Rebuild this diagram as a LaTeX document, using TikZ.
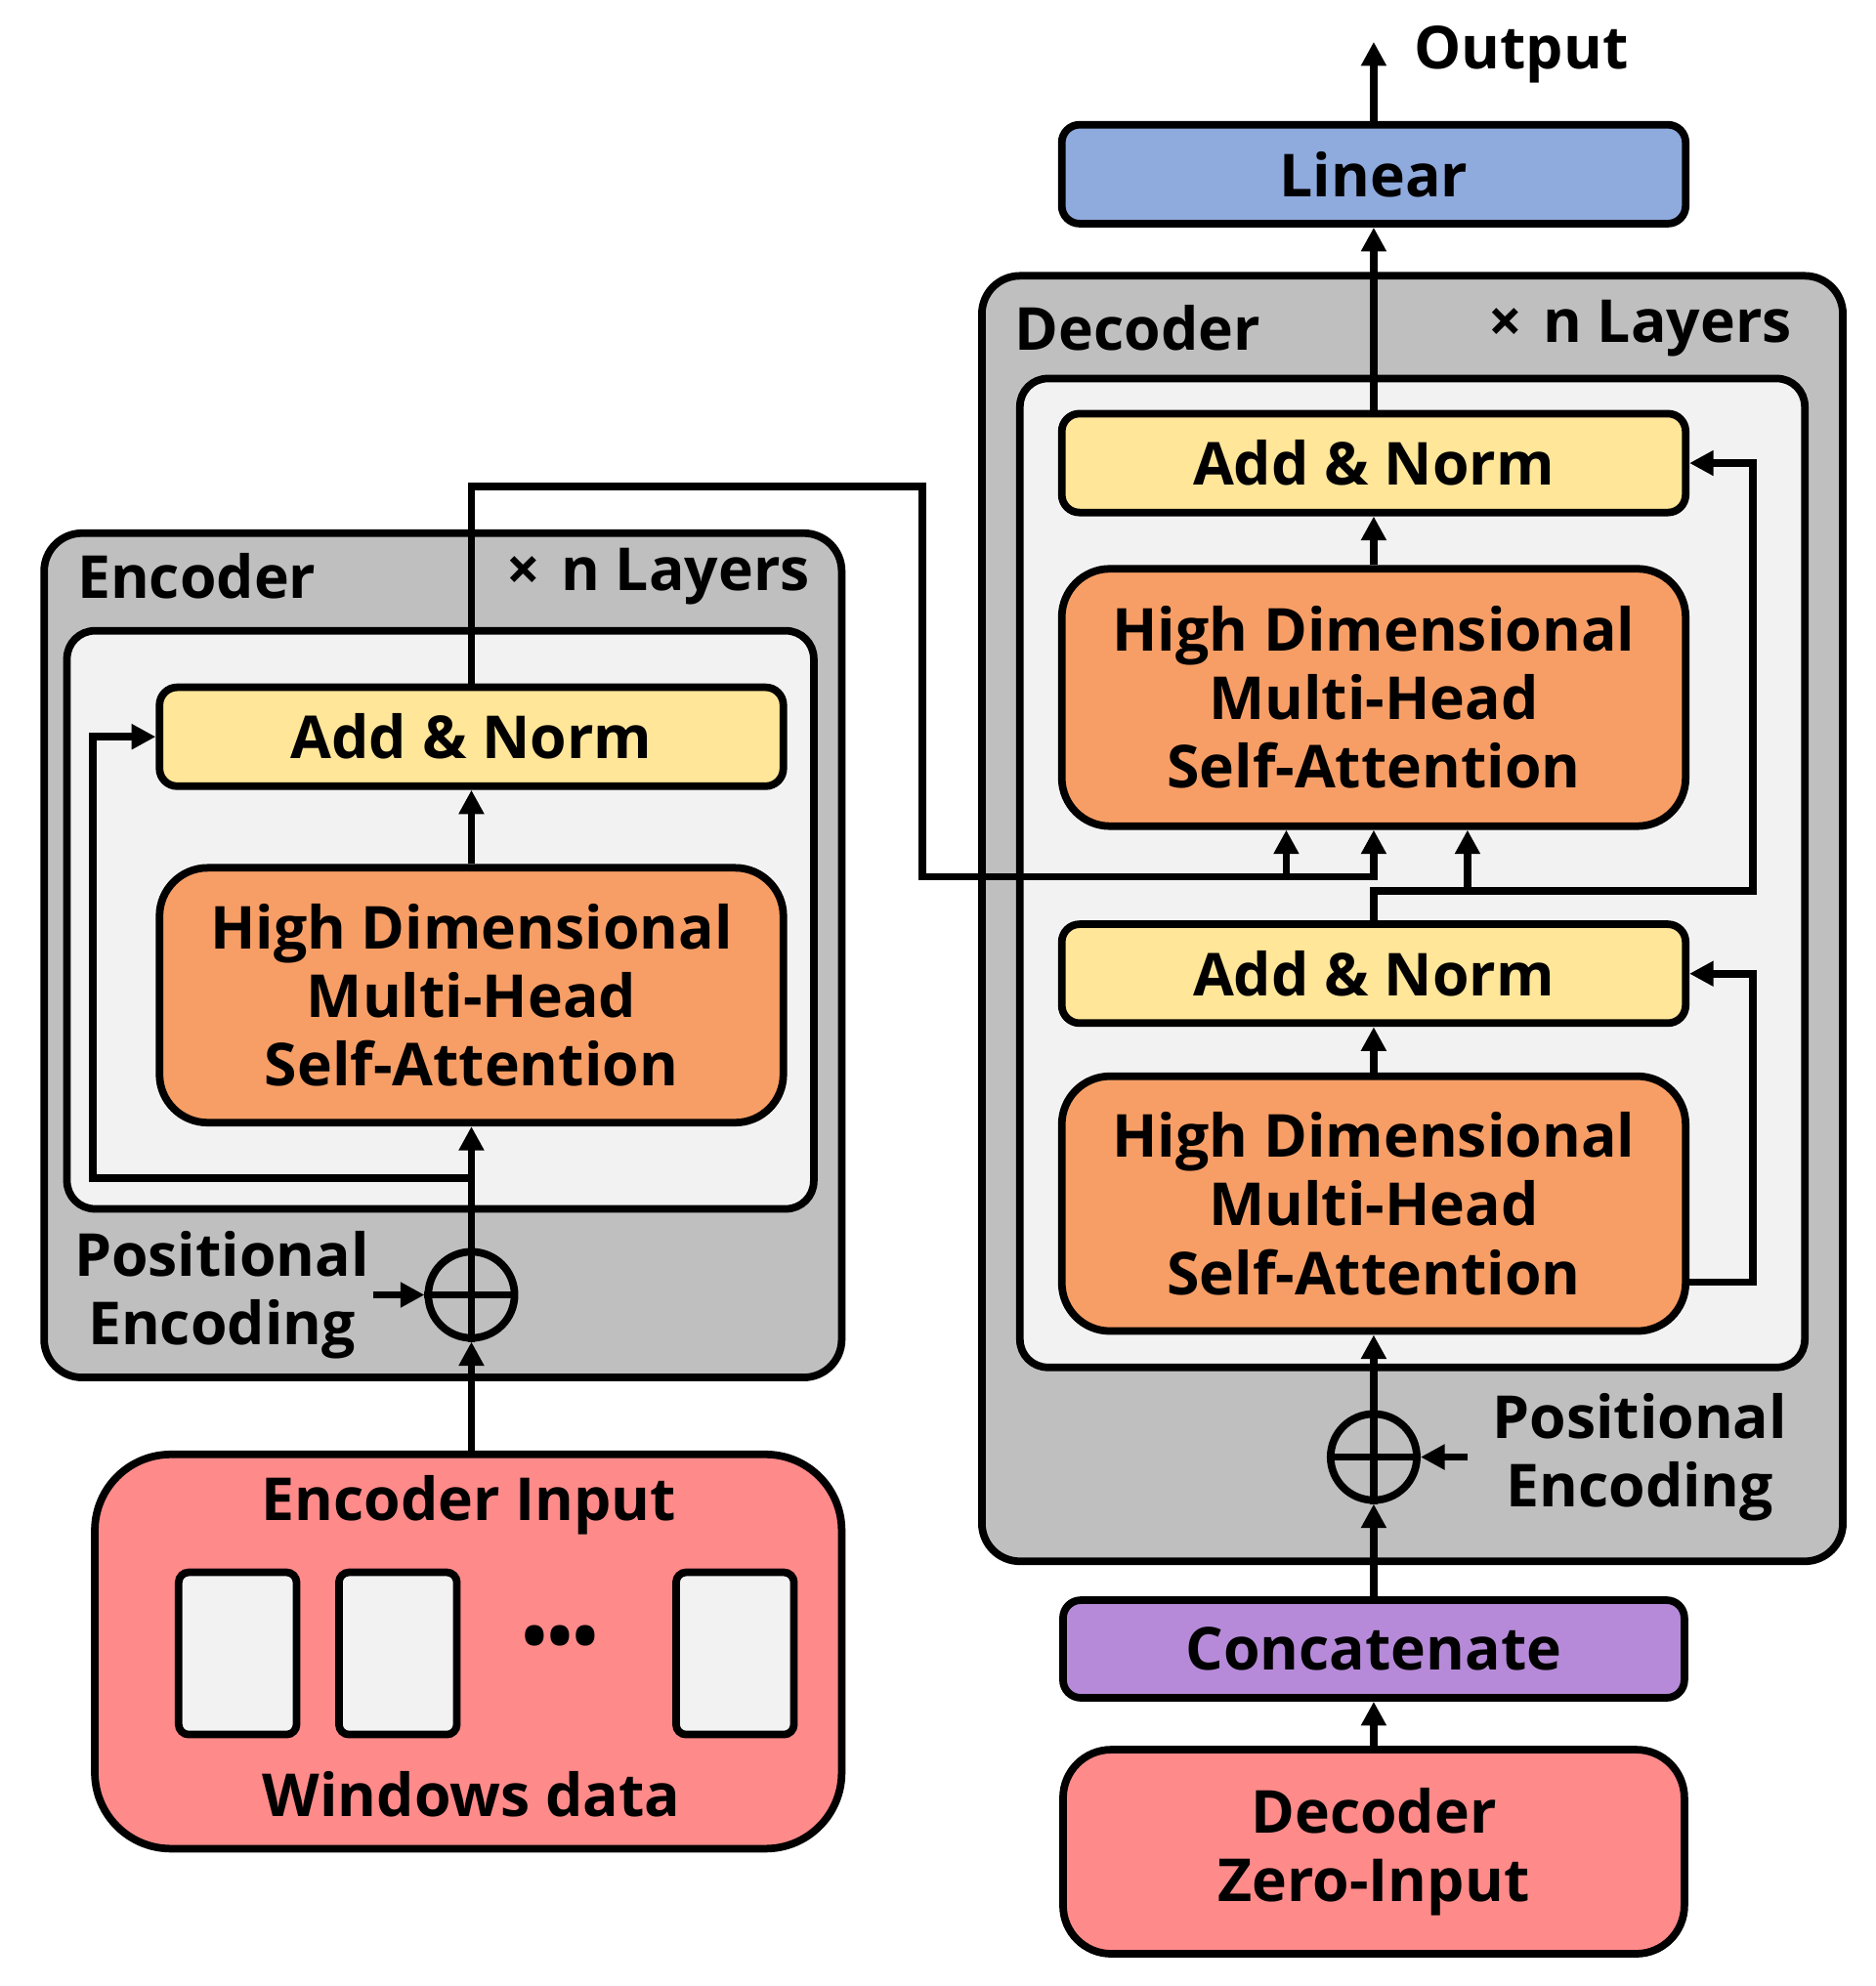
\documentclass[tikz,border=0pt]{standalone}
\usepackage{fontspec}
\setmainfont{Open Sans}
\usetikzlibrary{arrows.meta}
\definecolor{layergray}{HTML}{BFBFBF}
\definecolor{stackgray}{HTML}{F2F2F2}
\definecolor{normyellow}{HTML}{FFE699}
\definecolor{attnorange}{HTML}{F79E66}
\definecolor{inputred}{HTML}{FF8A8A}
\definecolor{linearblue}{HTML}{8FAADC}
\definecolor{concatpurple}{HTML}{B68AD8}
\begin{document}
\begin{tikzpicture}[x=0.01cm,y=-0.01cm,line width=1.7pt,
    font=\bfseries\fontsize{13.3}{15.4}\selectfont,
    layerbox/.style={draw,fill=layergray,rounded corners=0.3cm},
    stackbox/.style={draw,fill=stackgray,rounded corners=0.22cm},
    normbox/.style={draw,fill=normyellow,rounded corners=0.14cm,minimum width=4.92cm,minimum height=0.78cm},
    attnbox/.style={draw,fill=attnorange,rounded corners=0.38cm,minimum width=4.92cm,minimum height=2.01cm,align=center},
    inbox/.style={draw,fill=inputred,minimum width=4.90cm},
    addcircle/.style={draw,circle,minimum size=0.68cm,inner sep=0pt},
    tag/.style={inner sep=0pt,align=center},
    flow/.style={-{Triangle[length=5.4pt,width=5.4pt]}}]
    \useasboundingbox (0,0) rectangle (1480.3,1567.5);

    % encoder
    \node[layerbox,minimum width=6.29cm,minimum height=6.66cm] (encbox) at (349.5,754) {};
    \node[stackbox,minimum width=5.89cm,minimum height=4.56cm] (encstack) at (347.5,726) {};
    \node[tag,anchor=west] (enctitle) at (58,455) {Encoder};
    \node[tag,anchor=east] (enclayers) at (642,455) {×\hspace{0.35em}n Layers};
    \node[normbox] (an1) at (372,581.5) {Add \& Norm};
    \node[attnbox] (mhsa1) at (372,785.5) {High Dimensional\\Multi-Head\\Self-Attention};
    \node[addcircle] (pe1) at (372,1022) {};
    \node[tag] (pe1txt) at (175,1022) {Positional\\Encoding};

    % encoder input
    \node[inbox,rounded corners=0.6cm,minimum width=5.89cm,minimum height=3.11cm] (encin) at (369.5,1303.5) {};
    \node[tag] (encintxt) at (370,1188) {Encoder Input};
    \foreach \x/\name in {187.5/w1, 314/w2, 580/w3}
        \node[draw,fill=stackgray,rounded corners=0.08cm,minimum width=0.93cm,minimum height=1.28cm] (\name) at (\x,1305) {};
    \node[tag,font=\bfseries\fontsize{15}{16}\selectfont] (dots) at (442,1297) {•••};
    \node[tag] (wintxt) at (372,1416) {Windows data};

    % decoder
    \node[layerbox,minimum width=6.79cm,minimum height=10.14cm] (decbox) at (1114.5,725) {};
    \node[stackbox,minimum width=6.19cm,minimum height=7.80cm] (decstack) at (1114.5,689) {};
    \node[tag,anchor=west] (dectitle) at (798,259) {Decoder};
    \node[tag,anchor=east] (declayers) at (1417,259) {×\hspace{0.35em}n Layers};
    \node[normbox] (an3) at (1084,365.5) {Add \& Norm};
    \node[attnbox,minimum height=2.03cm] (mhsa3) at (1084,550.5) {High Dimensional\\Multi-Head\\Self-Attention};
    \node[normbox] (an2) at (1084,768.5) {Add \& Norm};
    \node[attnbox] (mhsa2) at (1084,950) {High Dimensional\\Multi-Head\\Self-Attention};
    \node[addcircle] (pe2) at (1084,1150) {};
    \node[tag] (pe2txt) at (1294,1150) {Positional\\Encoding};
    \coordinate (pe2in) at (1158,1150);

    \node[inbox,fill=concatpurple,rounded corners=0.14cm,minimum height=0.77cm] (concat) at (1084,1301.5) {Concatenate};
    \node[inbox,rounded corners=0.38cm,minimum height=1.61cm,align=center] (zero) at (1084,1461.5) {Decoder\\Zero-Input};
    \node[normbox,fill=linearblue] (linear) at (1084,137.5) {Linear};
    \coordinate (out) at (1084,33);
    \node[tag,anchor=west] (outtxt) at (1113,43) {Output};

    % encoder flow
    \draw[flow] (encin.north -| pe1) -- (pe1.south);
    \draw (pe1.north) -- (pe1.south) (pe1.west) -- (pe1.east);
    \draw[flow] (pe1txt.east) -- (pe1.west);
    \draw[flow] (pe1.north) -- (mhsa1.south);
    \draw[flow] (mhsa1.north) -- (an1.south);
    \draw[flow] (372,930) -- (73,930) |- (an1.west);

    % encoder to decoder
    \draw[flow] (an1.north) |- (728,384) |- (1084,692) -- (mhsa3.south);
    \coordinate (kin) at (1015,692);
    \draw[flow] (kin) -- (kin |- mhsa3.south);

    % decoder flow
    \draw[flow] (zero.north) -- (concat.south);
    \draw[flow] (concat.north) -- (pe2.south);
    \draw (pe2.north) -- (pe2.south) (pe2.west) -- (pe2.east);
    \draw[flow] (pe2in) -- (pe2.east);
    \draw[flow] (pe2.north) -- (mhsa2.south);
    \draw[flow] (mhsa2.north) -- (an2.south);
    \draw[flow] (mhsa2.east |- 0,1012) -- (1383,1012) |- (an2.east);
    \draw[flow] (an2.north) |- (1383,703) |- (an3.east);
    \coordinate (vin) at (1158,703);
    \draw[flow] (vin) -- (vin |- mhsa3.south);
    \draw[flow] (mhsa3.north) -- (an3.south);
    \draw[flow] (an3.north) -- (linear.south);
    \draw[flow] (linear.north) -- (out);
\end{tikzpicture}
\end{document}
